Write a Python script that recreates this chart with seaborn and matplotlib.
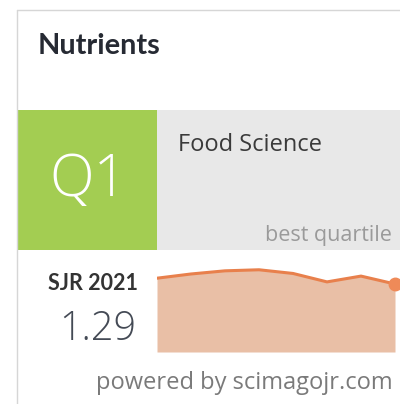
import matplotlib
matplotlib.use('Agg')
import matplotlib.pyplot as plt
from matplotlib.patches import Rectangle
import seaborn as sns
import pandas as pd

# widget data
journal = 'Nutrients'
category = 'Food Science'
quartile = 'Q1'
sjr_label = 'SJR 2021'
sjr_value = '1.29'
years = [2014, 2015, 2016, 2017, 2018, 2019, 2020, 2021]
sjr = [1.40, 1.48, 1.54, 1.56, 1.49, 1.33, 1.44, 1.29]

sns.set_theme(style='white')
plt.rcParams['font.family'] = ['Open Sans', 'DejaVu Sans']

W, H = 400, 404
fig = plt.figure(figsize=(W / 100, H / 100), dpi=100)
fig.patch.set_facecolor('white')

# layout axes in pixel coordinates
bg = fig.add_axes([0, 0, 1, 1])
bg.set_xlim(0, W)
bg.set_ylim(H, 0)
bg.axis('off')

# card border
bg.plot([17, 17], [10, H], color='#d6d6d6', lw=1)
bg.plot([17, W], [10, 10], color='#d6d6d6', lw=1)

# quartile boxes
bg.add_patch(Rectangle((17, 110), 140, 140, color='#a3cd52', lw=0))
bg.add_patch(Rectangle((157, 110), 243, 140, color='#e8e8e8', lw=0))

bg.text(38, 46, journal, fontsize=20.8, fontweight='bold', family=['Lato', 'DejaVu Sans'],
        color='#262a33', va='center', ha='left')
bg.text(88, 180, quartile, fontsize=42, fontweight='light', color='white',
        va='center', ha='center')
bg.text(178, 145, category, fontsize=17, color='#3a3a3a', va='center', ha='left')
bg.text(392, 235, 'best quartile', fontsize=15.5, color='#9a9a9a', va='center', ha='right')
bg.text(93, 284, sjr_label, fontsize=15.5, fontweight='bold', family=['Lato', 'DejaVu Sans'],
        color='#333333', va='center', ha='center')
bg.text(97.5, 329, sjr_value, fontsize=28.5, fontweight='light', color='#444a55',
        va='center', ha='center')
bg.text(244, 383, 'powered by scimagojr.com', fontsize=17, color='#7a7a7a',
        va='center', ha='center')

# SJR trend area
df = pd.DataFrame({'year': years, 'sjr': sjr})
ax = fig.add_axes([157 / W, (H - 352) / H, 243 / W, 90 / H])
ax.patch.set_alpha(0)
ax.fill_between(df['year'], 0, df['sjr'], color='#e9bfa6', lw=0)
sns.lineplot(data=df, x='year', y='sjr', ax=ax, color='#e8804c', lw=2.2)
ax.plot(df['year'].iloc[-1], df['sjr'].iloc[-1], 'o', color='#ef8a58', ms=9, clip_on=False)
ax.set_xlim(2014, 2021 + 5 / 34)
ax.set_ylim(0, 90 * 1.29 / 68)
ax.axis('off')

fig.savefig('out.png', dpi=100)
